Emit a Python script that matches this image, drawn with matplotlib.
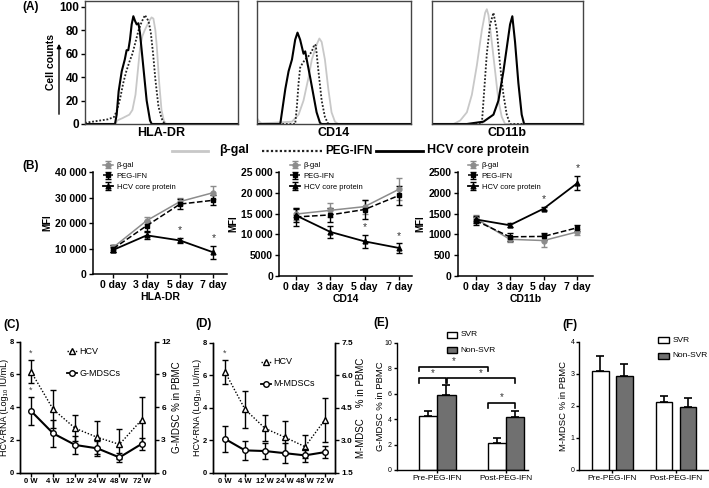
import matplotlib
matplotlib.use('Agg')
import matplotlib.pyplot as plt
from matplotlib.lines import Line2D
from matplotlib.patches import Rectangle

NARROW = ['Liberation Sans Narrow', 'Liberation Sans', 'DejaVu Sans']
SANS = ['Liberation Sans', 'DejaVu Sans']
plt.rcParams['font.family'] = SANS

# ---------------- data ----------------
# Panel A: flow histograms (x = % of fluorescence axis, y = cell counts)
hla_bgal_x = [0, 20, 21, 24.5, 29, 31, 33, 34.5, 36, 37.5, 39, 40.5, 42, 43.5, 44.7, 46, 47, 48.5, 50, 51.5, 53, 100]
hla_bgal_y = [0, 0, 3, 5, 8, 12, 25, 45, 65, 75, 80, 84, 88, 91, 90, 80, 65, 35, 12, 3, 0, 0]
hla_peg_x = [0, 5, 10, 15, 19, 21, 23, 25, 27, 29, 31, 33, 35, 37, 39.2, 40.5, 41.5, 43, 44.5, 46, 48, 50, 52, 100]
hla_peg_y = [1, 2, 3, 4, 6, 12, 22, 35, 45, 53, 60, 70, 80, 87, 93, 90, 88, 78, 60, 38, 15, 5, 0, 0]
hla_hcv_x = [0, 19.6, 20.7, 22, 24, 26, 27.2, 28.3, 29.4, 30.5, 31.6, 32.7, 33.8, 34.9, 35.9, 38.1, 40.3, 42.5, 43.6, 100]
hla_hcv_y = [0, 0, 8, 28, 45, 55, 63, 63, 72, 85, 92, 88, 85, 86, 78, 49, 20, 3, 0, 0]

cd14_bgal_x = [0, 1.5, 3, 10, 22.7, 27, 30.2, 33.5, 35.6, 38.8, 40.5, 42, 44.1, 46.3, 48.4, 50.6, 52.7, 100]
cd14_bgal_y = [5, 2, 0.5, 1, 2, 8, 20, 40, 55, 68, 73, 70, 55, 30, 10, 2, 0, 0]
cd14_peg_x = [0, 24.8, 25.9, 27, 28, 29.6, 31.3, 33.5, 35.6, 37.3, 38.2, 39.9, 42, 44.1, 46.3, 100]
cd14_peg_y = [0, 0, 15, 35, 48, 52, 55, 58, 62, 68, 67, 45, 20, 6, 0, 0]
cd14_hcv_x = [0, 15.1, 16.2, 18.4, 20.5, 22.7, 24.8, 26.3, 28, 30.2, 31.3, 32.3, 34.5, 36.6, 38.7, 40.9, 42, 100]
cd14_hcv_y = [0, 0, 10, 30, 45, 55, 72, 78, 72, 60, 62, 55, 40, 25, 10, 1, 0, 0]

cd11b_bgal_x = [0, 14.3, 18.7, 23.1, 26.4, 29.7, 33, 35.2, 36.3, 37.4, 39.6, 41.8, 44, 46.2, 48.4, 100]
cd11b_bgal_y = [0, 0, 3, 10, 25, 50, 80, 95, 98, 93, 70, 45, 20, 6, 0, 0]
cd11b_peg_x = [0, 33, 34.1, 36.3, 38.5, 40.7, 42.9, 45.1, 47.3, 49.5, 51.7, 100]
cd11b_peg_y = [0, 0, 20, 60, 85, 95, 80, 50, 25, 8, 0, 0]
cd11b_hcv_x = [0, 23.1, 34.1, 40.7, 44, 47.3, 49.5, 51.7, 53.2, 55, 57.2, 59.4, 61, 100]
cd11b_hcv_y = [0, 0, 2, 8, 20, 45, 65, 85, 92, 70, 35, 8, 0, 0]

hist_ticks = [0, 20, 40, 60, 80, 100]
markers_A = ['HLA-DR', 'CD14', 'CD11b']
series_names = ['β-gal', 'PEG-IFN', 'HCV core protein']

# Panel B: MFI over time
days = ['0 day', '3 day', '5 day', '7 day']
hla_bgal = [10500, 21000, 28500, 32000]; hla_bgal_err = [1000, 1500, 1500, 2500]
hla_peg = [10000, 19000, 27500, 29000]; hla_peg_err = [1500, 2000, 2000, 2000]
hla_hcv = [9500, 15200, 13200, 8500]; hla_hcv_err = [1000, 1500, 1000, 2500]
cd14_bgal = [14900, 15800, 16700, 20900]; cd14_bgal_err = [1400, 1700, 1700, 2700]
cd14_peg = [14200, 14700, 16000, 19400]; cd14_peg_err = [2200, 1600, 2200, 2400]
cd14_hcv = [14600, 10600, 8300, 6700]; cd14_hcv_err = [1500, 1400, 1500, 1100]
cd11b_bgal = [1380, 880, 850, 1060]; cd11b_bgal_err = [90, 60, 150, 80]
cd11b_peg = [1330, 940, 950, 1160]; cd11b_peg_err = [100, 90, 90, 70]
cd11b_hcv = [1360, 1220, 1620, 2240]; cd11b_hcv_err = [80, 50, 40, 170]
hla_ticks = [0, 10000, 20000, 30000, 40000]
hla_ticklabels = ['0', '10 000', '20 000', '30 000', '40 000']
cd14_ticks = [0, 5000, 10000, 15000, 20000, 25000]
cd14_ticklabels = ['0', '5000', '10 000', '15 000', '20 000', '25 000']
cd11b_ticks = [0, 500, 1000, 1500, 2000, 2500]
cd11b_ticklabels = ['0', '500', '1000', '1500', '2000', '2500']
star_days = [2, 3]

# Panels C, D: HCV RNA and MDSC over treatment
weeks = ['0 W', '4 W', '12 W', '24 W', '48 W', '72 W']
c_hcv = [6.17, 3.87, 2.71, 2.16, 1.73, 3.22]
c_hcv_err = [0.72, 1.15, 0.8, 1.0, 0.92, 1.4]
c_gmdsc = [5.65, 3.6, 2.54, 2.23, 1.4, 2.63]
c_gmdsc_err = [1.3, 1.2, 0.83, 0.68, 0.38, 0.53]
d_hcv = [6.2, 3.9, 2.73, 2.18, 1.6, 3.26]
d_hcv_err = [0.72, 1.15, 0.8, 1.0, 0.7, 1.35]
d_mmdsc = [3.06, 2.53, 2.5, 2.4, 2.3, 2.45]
d_mmdsc_err = [0.6, 0.45, 0.35, 0.45, 0.3, 0.27]

# Panels E, F: SVR vs Non-SVR
groups = ['Pre-PEG-IFN', 'Post-PEG-IFN']
e_svr = [4.24, 2.15]; e_svr_err = [0.4, 0.38]
e_non = [5.89, 4.19]; e_non_err = [0.8, 0.45]
f_svr = [3.1, 2.11]; f_svr_err = [0.45, 0.2]
f_non = [2.94, 1.97]; f_non_err = [0.35, 0.28]

# ---------------- figure ----------------
W, H = 709, 488
fig = plt.figure(figsize=(W / 100, H / 100), dpi=100)


def add_ax(x0, y0, x1, y1):
    return fig.add_axes([x0 / W, 1 - y1 / H, (x1 - x0) / W, (y1 - y0) / H])


def fx(px):
    return px / W


def fy(py):
    return 1 - py / H


def ftext(x, y, s, **kw):
    fig.text(fx(x), fy(y), s, **kw)


# ---- Panel A ----
boxesA = [(85, 1, 238, 124), (257, 1, 411, 124), (432, 1, 583, 124)]
histA = [
    (hla_bgal_x, hla_bgal_y, hla_peg_x, hla_peg_y, hla_hcv_x, hla_hcv_y),
    (cd14_bgal_x, cd14_bgal_y, cd14_peg_x, cd14_peg_y, cd14_hcv_x, cd14_hcv_y),
    (cd11b_bgal_x, cd11b_bgal_y, cd11b_peg_x, cd11b_peg_y, cd11b_hcv_x, cd11b_hcv_y),
]
for i, (box, h, lab) in enumerate(zip(boxesA, histA, markers_A)):
    ax = add_ax(*box)
    ax.plot(h[0], h[1], color='#c8c8c8', lw=1.3)
    ax.plot(h[2], h[3], color='#222222', lw=1.3, ls=(0, (1, 1)))
    ax.plot(h[4], h[5], color='black', lw=1.5)
    ax.set_xlim(0, 100)
    ax.set_ylim(0, 105)
    ax.set_xticks([])
    for s in ax.spines.values():
        s.set_color('#444444')
        s.set_linewidth(1.0)
    ax.set_xlabel(lab, fontsize=9, fontweight='bold', labelpad=2)
    if i == 0:
        ax.set_yticks(hist_ticks)
        ax.tick_params(axis='y', length=3, width=1, pad=1.5, labelsize=8.5)
        for t in ax.get_yticklabels():
            t.set_fontweight('bold')
    else:
        ax.set_yticks([])

ftext(51, 62, 'Cell counts', rotation=90, ha='center', va='center', fontsize=7.5, fontweight='bold')
fig.add_artist(matplotlib.patches.FancyArrowPatch((fx(59), fy(117)), (fx(59), fy(41)),
               transform=fig.transFigure, arrowstyle='-|>', mutation_scale=6, lw=1, color='black'))
ftext(22, 7, '(A)', ha='left', va='center', fontsize=8.5, fontweight='bold')

# legend row
fig.add_artist(Line2D([fx(172), fx(208)], [fy(150.5)] * 2, color='#c8c8c8', lw=2))
ftext(219, 150.5, series_names[0], ha='left', va='center', fontsize=9, fontweight='bold')
fig.add_artist(Line2D([fx(262), fx(322)], [fy(150.5)] * 2, color='#222222', lw=1.6, ls=(0, (1, 1))))
ftext(325, 150.5, series_names[1], ha='left', va='center', fontsize=8.5, fontweight='bold',
      fontfamily=NARROW)
fig.add_artist(Line2D([fx(376), fx(423)], [fy(150.5)] * 2, color='black', lw=2))
ftext(427, 150.5, series_names[2], ha='left', va='center', fontsize=9, fontweight='bold')

# ---- Panel B ----
boxesB = [(92.7, 172.3, 226.7, 274), (279.3, 172.3, 411.7, 275.7), (457.7, 172.3, 593.3, 275.7)]
xlimsB = [(-0.62, 3.4), (-0.48, 3.37), (-0.54, 3.47)]
dataB = [
    (hla_bgal, hla_bgal_err, hla_peg, hla_peg_err, hla_hcv, hla_hcv_err, hla_ticks, hla_ticklabels, 'HLA-DR'),
    (cd14_bgal, cd14_bgal_err, cd14_peg, cd14_peg_err, cd14_hcv, cd14_hcv_err, cd14_ticks, cd14_ticklabels, 'CD14'),
    (cd11b_bgal, cd11b_bgal_err, cd11b_peg, cd11b_peg_err, cd11b_hcv, cd11b_hcv_err, cd11b_ticks, cd11b_ticklabels, 'CD11b'),
]
legend_pos = [(103, 162), (290, 162), (468, 162)]
xd = list(range(len(days)))
for box, xl, d, lp in zip(boxesB, xlimsB, dataB, legend_pos):
    ax = add_ax(*box)
    l1 = ax.errorbar(xd, d[0], yerr=d[1], color='#8c8c8c', marker='o', ms=3.5, lw=1.1,
                     capsize=2, elinewidth=1, capthick=1, label=series_names[0])
    l2 = ax.errorbar(xd, d[2], yerr=d[3], color='black', marker='s', ms=3.5, lw=1.1, ls='--',
                     capsize=2, elinewidth=1, capthick=1, label=series_names[1])
    l3 = ax.errorbar(xd, d[4], yerr=d[5], color='black', marker='^', ms=3.5, lw=1.3,
                     capsize=2, elinewidth=1, capthick=1, label=series_names[2])
    for k in star_days:
        ax.annotate('*', (xd[k], d[4][k] + d[5][k]), xytext=(0, 2), textcoords='offset points',
                    ha='center', va='bottom', fontsize=7.5, color='#333333')
    ax.set_xlim(*xl)
    ax.set_ylim(d[6][0], d[6][-1])
    ax.set_yticks(d[6])
    ax.set_yticklabels(d[7], fontfamily=NARROW, fontweight='bold', fontsize=7.5)
    ax.set_xticks(xd)
    ax.set_xticklabels(days, fontfamily=NARROW, fontweight='bold', fontsize=7.5)
    ax.tick_params(length=3, width=1, pad=1.5)
    ax.spines['top'].set_visible(False)
    ax.spines['right'].set_visible(False)
    for s in ['left', 'bottom']:
        ax.spines[s].set_linewidth(1.1)
    ax.set_ylabel('MFI', fontsize=7, fontweight='bold', labelpad=2)
    ax.set_xlabel(d[8], fontfamily=NARROW, fontsize=7.5, fontweight='bold', labelpad=1.5)
    ax.legend(handles=[l1, l2, l3], loc='upper left', bbox_to_anchor=(fx(lp[0]), fy(lp[1])),
              bbox_transform=fig.transFigure, frameon=False,
              prop={'family': NARROW, 'size': 5.5}, handlelength=1.3, handletextpad=0.5,
              labelspacing=0.45, borderpad=0, borderaxespad=0)
ftext(22, 166, '(B)', ha='left', va='center', fontsize=8.5, fontweight='bold')

# ---- Panels C, D ----
wx = list(range(len(weeks)))


def time_panel(box, xl, hcv, hcv_err, mdsc, mdsc_err, rlim, rticks, rlabels, rname,
               lname, llabel_x, rlabel_x, leg_x, leg_y, mdsc_star):
    ax = add_ax(*box)
    ax.errorbar(wx, hcv, yerr=hcv_err, color='black', ls=(0, (1, 1.3)), lw=1, marker='^',
                mfc='white', mec='black', ms=4, capsize=2, elinewidth=1, capthick=1)
    ax.annotate('*', (wx[0], hcv[0] + hcv_err[0]), xytext=(0, 1.5), textcoords='offset points',
                ha='center', va='bottom', fontsize=6.5, color='#444444')
    ax.set_xlim(*xl)
    ax.set_ylim(0, 8)
    ax.set_yticks([0, 2, 4, 6, 8])
    ax.set_xticks(wx)
    ax.set_xticklabels(weeks, fontfamily=NARROW, fontweight='bold', fontsize=5.5)
    ax.set_yticklabels(['0', '2', '4', '6', '8'], fontfamily=NARROW, fontweight='bold', fontsize=5.5)
    ax.tick_params(length=3, width=1, pad=1)
    ax.spines['top'].set_visible(False)
    ax2 = ax.twinx()
    ax2.errorbar(wx, mdsc, yerr=mdsc_err, color='black', lw=1.5, marker='o', mfc='white',
                 mec='black', ms=4, capsize=2, elinewidth=1, capthick=1)
    if mdsc_star:
        ax2.annotate('*', (wx[0], mdsc[0] + mdsc_err[0]), xytext=(0, 1.5), textcoords='offset points',
                     ha='center', va='bottom', fontsize=6.5, color='#444444')
    ax2.set_ylim(*rlim)
    ax2.set_yticks(rticks)
    ax2.set_yticklabels(rlabels, fontfamily=NARROW, fontweight='bold', fontsize=6)
    ax2.tick_params(length=3, width=1, pad=1.5)
    ax2.spines['top'].set_visible(False)
    for a in (ax, ax2):
        for s in ['left', 'bottom', 'right']:
            a.spines[s].set_linewidth(1.0)
    ymid = (box[1] + box[3]) / 2
    ftext(llabel_x, ymid, 'HCV-RNA (Log₁₀ IU/mL)', rotation=90, ha='center', va='center', fontsize=6.5)
    ftext(rlabel_x, ymid, rname, rotation=90, ha='center', va='center', fontsize=7)
    # legend
    fig.add_artist(Line2D([fx(leg_x - 5), fx(leg_x), fx(leg_x + 5)], [fy(leg_y)] * 3, color='black',
                          lw=1, ls=(0, (1, 1)), marker='^', markevery=[1], mfc='white', mec='black', ms=4))
    ftext(leg_x + 8, leg_y, 'HCV', ha='left', va='center', fontsize=6.5, fontfamily=NARROW)
    fig.add_artist(Line2D([fx(leg_x - 5), fx(leg_x), fx(leg_x + 5)], [fy(leg_y + 22)] * 3, color='black',
                          lw=1.3, marker='o', markevery=[1], mfc='white', mec='black', ms=4))
    ftext(leg_x + 8, leg_y + 22, lname, ha='left', va='center', fontsize=6.5, fontfamily=NARROW)
    return ax


time_panel((20, 341.7, 155, 472.7), (-0.5, 5.61), c_hcv, c_hcv_err, c_gmdsc, c_gmdsc_err,
           (0, 12), [0, 3, 6, 9, 12], ['0', '3', '6', '9', '12'], 'G-MDSC % in PBMC', 'G-MDSCs',
           5, 177, 71.7, 351, True)
time_panel((212.7, 342.7, 335, 472.7), (-0.615, 5.5), d_hcv, d_hcv_err, d_mmdsc, d_mmdsc_err,
           (1.5, 7.5), [1.5, 3.0, 4.5, 6.0, 7.5], ['1.5', '3.0', '4.5', '6.0', '7.5'],
           'M-MDSC    % in PBMC', 'M-MDSCs', 197, 361, 265.7, 361.7, False)
ftext(3, 325, '(C)', ha='left', va='center', fontsize=8.5, fontweight='bold')
ftext(195, 324, '(D)', ha='left', va='center', fontsize=8.5, fontweight='bold')

# ---- Panels E, F ----
GRAY = '#707070'


def bar_panel(box, xl, off, bw, svr, svr_err, non, non_err, ylim, yticks, ylabel, ylabel_x,
              leg_x, leg_y):
    ax = add_ax(*box)
    gx = list(range(len(groups)))
    xs = [g - off for g in gx]
    xn = [g + off for g in gx]
    ax.bar(xs, svr, width=bw, color='white', edgecolor='black', lw=1, zorder=2)
    ax.bar(xn, non, width=bw, color=GRAY, edgecolor='black', lw=1, zorder=2)
    ax.errorbar(xs, svr, yerr=[[0] * len(svr), svr_err], fmt='none', ecolor='black',
                elinewidth=1.2, capsize=3, capthick=1.2, zorder=1)
    ax.errorbar(xn, non, yerr=[[0] * len(non), non_err], fmt='none', ecolor='black',
                elinewidth=1.2, capsize=3, capthick=1.2, zorder=1)
    ax.set_xlim(*xl)
    ax.set_ylim(*ylim)
    ax.set_yticks(yticks)
    ax.set_yticklabels([str(t) for t in yticks], fontfamily=NARROW, fontsize=5)
    ax.set_xticks(gx)
    ax.set_xticklabels(groups, fontfamily=NARROW, fontsize=6)
    ax.tick_params(length=2.5, width=1, pad=1)
    ax.spines['top'].set_visible(False)
    ax.spines['right'].set_visible(False)
    for s in ['left', 'bottom']:
        ax.spines[s].set_linewidth(1.0)
    ftext(ylabel_x, (box[1] + box[3]) / 2, ylabel, rotation=90, ha='center', va='center', fontsize=6.8)
    for j, (nm, col) in enumerate([('SVR', 'white'), ('Non-SVR', GRAY)]):
        yy = leg_y + j * 15.5
        fig.add_artist(Rectangle((fx(leg_x), fy(yy + 3)), 10.5 / W, 6 / H, transform=fig.transFigure,
                                 facecolor=col, edgecolor='black', lw=1))
        ftext(leg_x + 14, yy, nm, ha='left', va='center', fontsize=6, fontfamily=NARROW)
    return ax, xs, xn


axE, xs, xn = bar_panel((396.7, 342.7, 528, 470), (-0.59, 1.32), 0.133, 0.265, e_svr, e_svr_err,
                        e_non, e_non_err, (0, 10), [0, 2, 4, 6, 8, 10], 'G-MDSC % in PBMC', 380,
                        446.7, 334.5)
# significance brackets (between bars)
brackets = [(xs[0] - 0.13, xs[1] - 0.13, 8.1), (xs[0] - 0.13, xn[0], 7.2),
            (xn[0] + 0.01, xn[1], 7.2), (xs[1] - 0.13, xn[1], 5.25)]
for x0, x1, yb in brackets:
    axE.plot([x0, x0, x1, x1], [yb - 0.35, yb, yb, yb - 0.35], color='black', lw=1.2, clip_on=False)
    axE.text((x0 + x1) / 2, yb + 0.05, '*', ha='center', va='bottom', fontsize=7, color='#333333')

bar_panel((579.3, 341.7, 709, 470), (-0.52, 1.52), 0.19, 0.26, f_svr, f_svr_err,
          f_non, f_non_err, (0, 4), [0, 1, 2, 3, 4], 'M-MDSC % in PBMC', 564, 658.3, 340)
ftext(373, 323, '(E)', ha='left', va='center', fontsize=8.5, fontweight='bold')
ftext(562, 325, '(F)', ha='left', va='center', fontsize=8.5, fontweight='bold')

fig.savefig('out.png', dpi=100)
